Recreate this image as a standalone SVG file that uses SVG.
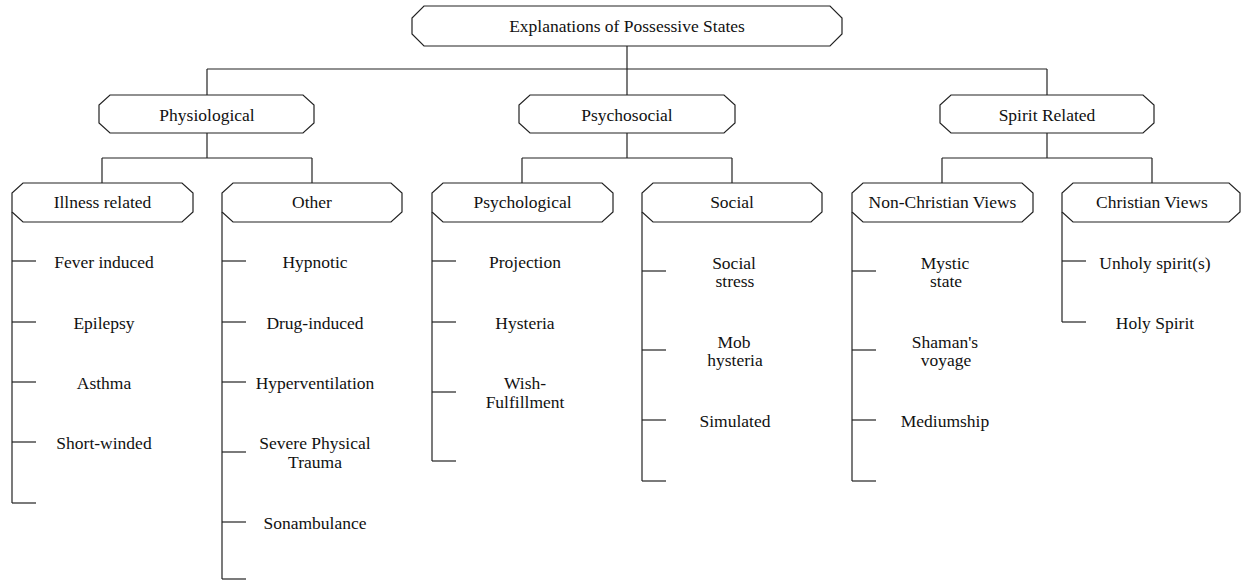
<svg xmlns="http://www.w3.org/2000/svg" width="1241" height="582" viewBox="0 0 1241 582">
<style>
.n{fill:#fff;stroke:#222;stroke-width:1.2}
.c line{stroke:#222;stroke-width:1.2}
text{font-family:"Liberation Serif","Times New Roman",serif;font-size:17.5px;fill:#111;text-anchor:middle}
</style>
<rect width="1241" height="582" fill="#fff"/>
<g class="c" id="connectors">
<line x1="627" y1="46" x2="627" y2="95"/>
<line x1="207" y1="69" x2="1047" y2="69"/>
<line x1="207" y1="69" x2="207" y2="95"/>
<line x1="1047" y1="69" x2="1047" y2="95"/>
<line x1="207" y1="133" x2="207" y2="158"/>
<line x1="102" y1="158" x2="312" y2="158"/>
<line x1="102" y1="158" x2="102" y2="183"/>
<line x1="312" y1="158" x2="312" y2="183"/>
<line x1="627" y1="133" x2="627" y2="158"/>
<line x1="522" y1="158" x2="732" y2="158"/>
<line x1="522" y1="158" x2="522" y2="183"/>
<line x1="732" y1="158" x2="732" y2="183"/>
<line x1="1047" y1="133" x2="1047" y2="158"/>
<line x1="942" y1="158" x2="1152" y2="158"/>
<line x1="942" y1="158" x2="942" y2="183"/>
<line x1="1152" y1="158" x2="1152" y2="183"/>
<!-- spines -->
<line x1="12" y1="212" x2="12" y2="503"/>
<line x1="12" y1="261" x2="36" y2="261"/>
<line x1="12" y1="322" x2="36" y2="322"/>
<line x1="12" y1="382" x2="36" y2="382"/>
<line x1="12" y1="442" x2="36" y2="442"/>
<line x1="12" y1="503" x2="36" y2="503"/>
<line x1="222" y1="212" x2="222" y2="579"/>
<line x1="222" y1="261" x2="246" y2="261"/>
<line x1="222" y1="322" x2="246" y2="322"/>
<line x1="222" y1="382" x2="246" y2="382"/>
<line x1="222" y1="452" x2="246" y2="452"/>
<line x1="222" y1="522" x2="246" y2="522"/>
<line x1="222" y1="579" x2="246" y2="579"/>
<line x1="432" y1="212" x2="432" y2="461"/>
<line x1="432" y1="261" x2="456" y2="261"/>
<line x1="432" y1="322" x2="456" y2="322"/>
<line x1="432" y1="392" x2="456" y2="392"/>
<line x1="432" y1="461" x2="456" y2="461"/>
<line x1="642" y1="212" x2="642" y2="481"/>
<line x1="642" y1="271" x2="666" y2="271"/>
<line x1="642" y1="350" x2="666" y2="350"/>
<line x1="642" y1="420" x2="666" y2="420"/>
<line x1="642" y1="481" x2="666" y2="481"/>
<line x1="852" y1="212" x2="852" y2="481"/>
<line x1="852" y1="271" x2="876" y2="271"/>
<line x1="852" y1="350" x2="876" y2="350"/>
<line x1="852" y1="420" x2="876" y2="420"/>
<line x1="852" y1="481" x2="876" y2="481"/>
<line x1="1062" y1="212" x2="1062" y2="322"/>
<line x1="1062" y1="261" x2="1086" y2="261"/>
<line x1="1062" y1="322" x2="1086" y2="322"/>
</g>
<g id="root"><polygon class="n" points="424,6 830,6 842,18 842,34 830,46 424,46 412,34 412,18"/><text x="627" y="32">Explanations of Possessive States</text></g>
<g id="physiological"><polygon class="n" points="110,95 303,95 314,105 314,123 303,133 110,133 99,123 99,105"/><text x="207" y="121">Physiological</text></g>
<g id="psychosocial"><polygon class="n" points="530,95 724,95 735,105 735,123 724,133 530,133 519,123 519,105"/><text x="627" y="121">Psychosocial</text></g>
<g id="spirit"><polygon class="n" points="951,95 1143,95 1154,105 1154,123 1143,133 951,133 940,123 940,105"/><text x="1047" y="121">Spirit Related</text></g>
<g id="illness"><polygon class="n" points="23,183 182,183 193,193 193,212 182,222 23,222 12,212 12,193"/><text x="102.5" y="208">Illness related</text>
<text x="104" y="268">Fever induced</text><text x="104" y="329">Epilepsy</text><text x="104" y="389">Asthma</text><text x="104" y="449">Short-winded</text></g>
<g id="other"><polygon class="n" points="233,183 391,183 402,193 402,212 391,222 233,222 222,212 222,193"/><text x="312" y="208">Other</text>
<text x="315" y="268">Hypnotic</text><text x="315" y="329">Drug-induced</text><text x="315" y="389">Hyperventilation</text><text x="315" y="449">Severe Physical</text><text x="315" y="468">Trauma</text><text x="315" y="529">Sonambulance</text></g>
<g id="psychological"><polygon class="n" points="443,183 602,183 613,193 613,212 602,222 443,222 432,212 432,193"/><text x="522.5" y="208">Psychological</text>
<text x="525" y="268">Projection</text><text x="525" y="329">Hysteria</text><text x="525" y="389">Wish-</text><text x="525" y="408">Fulfillment</text></g>
<g id="social"><polygon class="n" points="653,183 811,183 822,193 822,212 811,222 653,222 642,212 642,193"/><text x="732" y="208">Social</text>
<text x="734" y="269">Social</text><text x="735" y="287">stress</text><text x="734" y="348">Mob</text><text x="735" y="366">hysteria</text><text x="735" y="427">Simulated</text></g>
<g id="nonchristian"><polygon class="n" points="863,183 1022,183 1033,193 1033,212 1022,222 863,222 852,212 852,193"/><text x="942.5" y="208">Non-Christian Views</text>
<text x="945" y="269">Mystic</text><text x="946" y="287">state</text><text x="945" y="348">Shaman's</text><text x="946" y="366">voyage</text><text x="945" y="427">Mediumship</text></g>
<g id="christian"><polygon class="n" points="1073,183 1229,183 1240,193 1240,212 1229,222 1073,222 1062,212 1062,193"/><text x="1152" y="208">Christian Views</text>
<text x="1155" y="269">Unholy spirit(s)</text><text x="1155" y="329">Holy Spirit</text></g>
</svg>
